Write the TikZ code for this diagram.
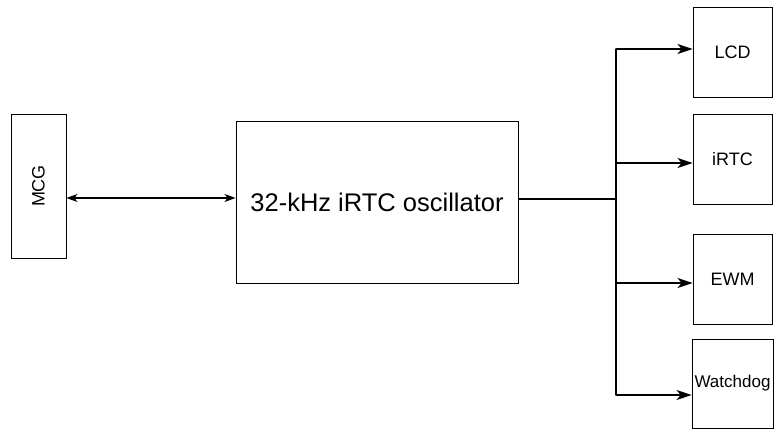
\documentclass[tikz,border=0pt]{standalone}
\usepackage{fontspec}
\setmainfont{Liberation Sans}
\usetikzlibrary{arrows.meta}
\tikzset{
    block/.style={draw, line width=0.9pt, inner sep=0pt, font=\fontsize{18}{20}\selectfont},
    bigblock/.style={block, font=\fontsize{25.5}{28}\selectfont},
    biarrow/.style={line width=1.1pt, {Stealth[length=11pt, width=8pt, inset=3pt]}-{Stealth[length=11pt, width=8pt, inset=3pt]}},
    busline/.style={line width=1.8pt},
    busarrow/.style={line width=1.8pt, -{Stealth[length=15pt, width=10pt, inset=4pt]}}
}
\begin{document}
\begin{tikzpicture}[x=1pt, y=-1pt]
                \useasboundingbox (0, 0) rectangle (775, 430);

                \node[block, minimum width=55pt, minimum height=144pt] (mcg) at (38.5, 186) {\rotatebox{90}{MCG}};
                \node[bigblock, minimum width=282pt, minimum height=162pt] (osc) at (377, 202) {32-kHz iRTC oscillator};
                \node[block, minimum width=79pt, minimum height=90pt] (lcd) at (732.5, 52) {LCD};
                \node[block, minimum width=79pt, minimum height=90pt] (irtc) at (732.5, 159) {iRTC};
                \node[block, minimum width=79pt, minimum height=90pt] (ewm) at (732.5, 279) {EWM};
                \node[block, minimum width=81pt, minimum height=89pt, font=\fontsize{17}{19}\selectfont] (wdog) at (732.5, 383.5) {Watchdog};

                \coordinate (tap1) at (616, 49);
                \coordinate (tap2) at (616, 163);
                \coordinate (tap3) at (616, 283);
                \coordinate (tap4) at (616, 395);

                \draw[biarrow] ([yshift=-12pt]mcg.east) -- ([yshift=-12pt]mcg.east -| osc.west);

                \draw[busline] ([yshift=3pt]osc.east) -- ([yshift=3pt]osc.east -| tap1);
                \draw[busline, line cap=round] (tap1) -- (tap4);
                \draw[busarrow] (tap1) -- (tap1 -| lcd.west);
                \draw[busarrow] (tap2) -- (tap2 -| irtc.west);
                \draw[busarrow] (tap3) -- (tap3 -| ewm.west);
                \draw[busarrow] (tap4) -- (tap4 -| wdog.west);
            \end{tikzpicture}
\end{document}
